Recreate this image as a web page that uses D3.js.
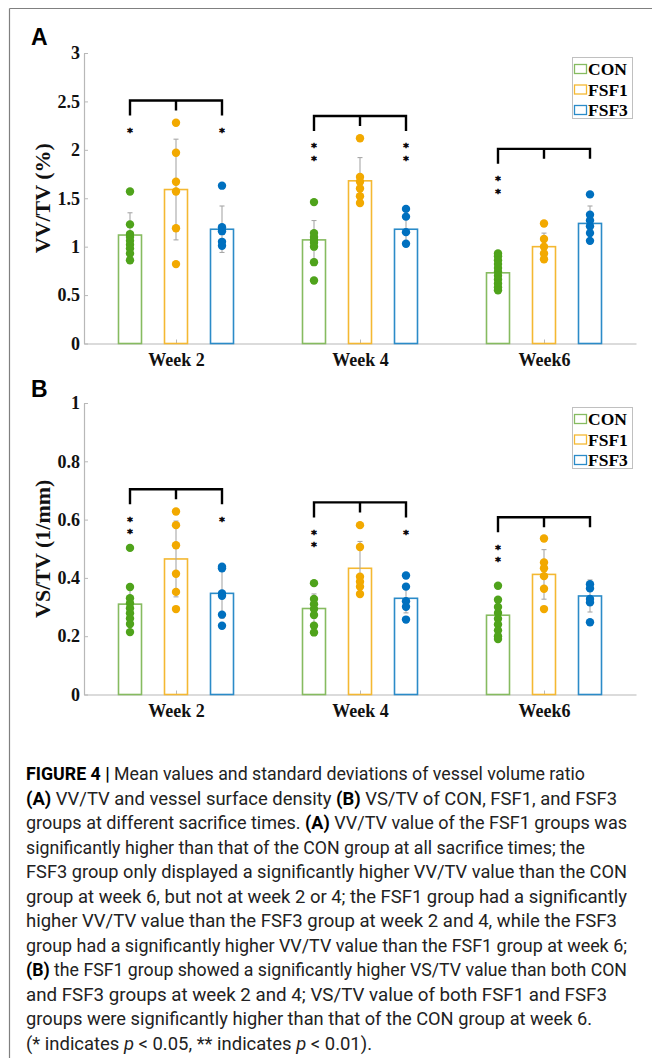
<!DOCTYPE html>
<html>
<head>
<meta charset="utf-8">
<script src="https://cdn.jsdelivr.net/npm/d3@7"></script>
<style>
  body { margin: 0; background: #fff; }
  svg { display: block; }
</style>
</head>
<body>
<svg id="fig" width="652" height="1058"></svg>
<script>
// categories
var weeks = ["Week 2", "Week 4", "Week6"];
var groups = ["CON", "FSF1", "FSF3"];

// panel A : VV/TV (%)  [week][group]
var vvMean = [[1.12, 1.59, 1.18], [1.07, 1.68, 1.18], [0.73, 1.00, 1.24]];
var vvSD = [[0.23, 0.52, 0.24], [0.20, 0.24, 0.15], [0.12, 0.14, 0.18]];
var vvPts = [
  [[1.57, 1.23, 1.13, 1.10, 1.06, 1.02, 0.98, 0.93, 0.86], [2.28, 1.97, 1.67, 1.57, 1.19, 0.82], [1.63, 1.20, 1.16, 1.05, 1.01]],
  [[1.46, 1.14, 1.10, 1.07, 1.04, 1.00, 0.84, 0.65], [2.12, 1.72, 1.67, 1.60, 1.52, 1.45], [1.39, 1.31, 1.15, 1.03]],
  [[0.93, 0.90, 0.86, 0.82, 0.78, 0.74, 0.70, 0.66, 0.62, 0.58, 0.55], [1.24, 1.08, 1.00, 0.93, 0.87], [1.54, 1.33, 1.27, 1.21, 1.14, 1.06]]
];
var vvBracket = [2.51, 2.35, 2.01];
var vvStars = [["*", "", "*"], ["**", "", "**"], ["**", "", ""]];
var vvTicks = [0, 0.5, 1, 1.5, 2, 2.5, 3];
var vvTickLabels = ["0", "0.5", "1", "1.5", "2", "2.5", "3"];

// panel B : VS/TV (1/mm)
var vsMean = [[0.310, 0.465, 0.347], [0.295, 0.433, 0.330], [0.272, 0.412, 0.338]];
var vsSD = [[0.060, 0.130, 0.085], [0.050, 0.092, 0.050], [0.055, 0.085, 0.055]];
var vsPts = [
  [[0.503, 0.369, 0.330, 0.313, 0.296, 0.279, 0.261, 0.242, 0.214], [0.628, 0.581, 0.512, 0.414, 0.352, 0.293], [0.438, 0.433, 0.347, 0.339, 0.274, 0.236]],
  [[0.382, 0.328, 0.310, 0.293, 0.273, 0.236, 0.213], [0.581, 0.506, 0.404, 0.387, 0.370, 0.345], [0.408, 0.370, 0.320, 0.301, 0.257]],
  [[0.373, 0.325, 0.300, 0.280, 0.260, 0.240, 0.220, 0.200, 0.190], [0.535, 0.453, 0.433, 0.406, 0.363, 0.293], [0.378, 0.364, 0.328, 0.316, 0.248]]
];
var vsBracket = [0.704, 0.659, 0.608];
var vsStars = [["**", "", "*"], ["**", "", "*"], ["**", "", ""]];
var vsTicks = [0, 0.2, 0.4, 0.6, 0.8, 1];
var vsTickLabels = ["0", "0.2", "0.4", "0.6", "0.8", "1"];

var caption = [
  "<b>FIGURE 4 |</b> Mean values and standard deviations of vessel volume ratio",
  "<b>(A)</b> VV/TV and vessel surface density <b>(B)</b> VS/TV of CON, FSF1, and FSF3",
  "groups at different sacrifice times. <b>(A)</b> VV/TV value of the FSF1 groups was",
  "significantly higher than that of the CON group at all sacrifice times; the",
  "FSF3 group only displayed a significantly higher VV/TV value than the CON",
  "group at week 6, but not at week 2 or 4; the FSF1 group had a significantly",
  "higher VV/TV value than the FSF3 group at week 2 and 4, while the FSF3",
  "group had a significantly higher VV/TV value than the FSF1 group at week 6;",
  "<b>(B)</b> the FSF1 group showed a significantly higher VS/TV value than both CON",
  "and FSF3 groups at week 2 and 4; VS/TV value of both FSF1 and FSF3",
  "groups were significantly higher than that of the CON group at week 6.",
  "(* indicates <i>p</i> &lt; 0.05, ** indicates <i>p</i> &lt; 0.01)."
];
var captionWidths = [559, 591, 601, 559, 601, 601, 591, 601, 601, 581, 566, 346];

var pointColor = { CON: "#4fa31b", FSF1: "#f2a900", FSF3: "#0070bf" };
var barColor = { CON: "#86bb60", FSF1: "#f4b832", FSF3: "#2b8bc8" };

var svg = d3.select("#fig");
var serif = "'Liberation Serif', 'Times New Roman', serif";

// frame
svg.append("line").attr("x1", 9.5).attr("y1", 8.5).attr("x2", 652).attr("y2", 8.5)
  .attr("stroke", "#808080").attr("stroke-width", 1.2);
svg.append("line").attr("x1", 9.5).attr("y1", 8.5).attr("x2", 9.5).attr("y2", 1058)
  .attr("stroke", "#808080").attr("stroke-width", 1.2);

function drawPanel(opt) {
  var g = svg.append("g");

  var x = d3.scalePoint().domain(weeks).range([84, 636]).padding(0.5);
  var xg = d3.scaleBand().domain(groups).range([-69, 69]).paddingInner(0.5).paddingOuter(0.25);
  var y = d3.scaleLinear().domain([0, opt.max]).range([opt.bottom, opt.top]);

  function cx(w, grp) { return x(w) + xg(grp) + xg.bandwidth() / 2; }

  // axes
  var yAxis = g.append("g")
    .attr("transform", "translate(84,0)")
    .call(d3.axisLeft(y).tickValues(opt.ticks)
      .tickFormat(function(d, i) { return opt.tickLabels[i]; })
      .tickSize(-4).tickSizeOuter(0).tickPadding(4));

  var xAxis = g.append("g")
    .attr("transform", "translate(0," + opt.bottom + ")")
    .call(d3.axisBottom(x).tickSize(-4).tickSizeOuter(0).tickPadding(10));

  [yAxis, xAxis].forEach(function(a) {
    a.select(".domain").attr("stroke", "#b8b8b8").attr("stroke-width", 1.2);
    a.selectAll(".tick line").attr("stroke", "#b8b8b8");
    a.selectAll("text").attr("fill", "#111").style("font-family", serif)
      .style("font-weight", "bold").style("font-size", "18px");
  });

  // y label
  g.append("text")
    .attr("transform", "translate(50," + ((opt.top + opt.bottom) / 2) + ") rotate(-90)")
    .attr("text-anchor", "middle")
    .style("font-family", serif).style("font-weight", "bold").style("font-size", "22px")
    .attr("fill", "#111")
    .text(opt.label);

  // panel letter
  g.append("text").attr("x", 31).attr("y", opt.letterY)
    .style("font-family", "'Liberation Sans', Arial, sans-serif")
    .style("font-weight", "bold").style("font-size", "23px")
    .text(opt.letter);

  var rows = [];
  weeks.forEach(function(w, i) {
    groups.forEach(function(grp, j) {
      rows.push({ week: w, group: grp, mean: opt.mean[i][j], sd: opt.sd[i][j], pts: opt.pts[i][j] });
    });
  });

  // bars
  g.selectAll("rect.bar")
    .data(rows)
    .enter()
      .append("rect")
      .attr("class", "bar")
      .attr("x", d => x(d.week) + xg(d.group))
      .attr("y", d => y(d.mean))
      .attr("width", xg.bandwidth())
      .attr("height", d => y(0) - y(d.mean))
      .attr("fill", "none")
      .attr("stroke", d => barColor[d.group])
      .attr("stroke-width", 1.6);

  // error bars
  var eb = g.selectAll("g.err").data(rows).enter().append("g").attr("class", "err")
    .attr("stroke", "#a8a8a8").attr("stroke-width", 1.1);
  eb.append("line")
    .attr("x1", d => cx(d.week, d.group)).attr("x2", d => cx(d.week, d.group))
    .attr("y1", d => y(d.mean - d.sd)).attr("y2", d => y(d.mean + d.sd));
  eb.append("line")
    .attr("x1", d => cx(d.week, d.group) - 2.5).attr("x2", d => cx(d.week, d.group) + 2.5)
    .attr("y1", d => y(d.mean + d.sd)).attr("y2", d => y(d.mean + d.sd));
  eb.append("line")
    .attr("x1", d => cx(d.week, d.group) - 2.5).attr("x2", d => cx(d.week, d.group) + 2.5)
    .attr("y1", d => y(d.mean - d.sd)).attr("y2", d => y(d.mean - d.sd));

  // points
  var pts = [];
  rows.forEach(function(r) {
    r.pts.forEach(function(v) { pts.push({ week: r.week, group: r.group, v: v }); });
  });
  g.selectAll("circle.pt")
    .data(pts)
    .enter()
      .append("circle")
      .attr("class", "pt")
      .attr("cx", d => cx(d.week, d.group))
      .attr("cy", d => y(d.v))
      .attr("r", 4.2)
      .attr("fill", d => pointColor[d.group]);

  // significance brackets and stars
  weeks.forEach(function(w, i) {
    var top = y(opt.bracket[i]);
    var x0 = cx(w, "CON"), x1 = cx(w, "FSF1"), x2 = cx(w, "FSF3");
    var stars = opt.stars[i];
    var d0 = stars[0] ? 15 : 10, d2 = stars[2] ? 15 : 10;
    g.append("path")
      .attr("d", "M" + x0 + "," + (top + d0) + "V" + top + "H" + x2 + "V" + (top + d2)
        + "M" + x1 + "," + top + "V" + (top + 10))
      .attr("fill", "none").attr("stroke", "#000").attr("stroke-width", 2.4);
    [x0, x1, x2].forEach(function(sx, j) {
      var s = stars[j];
      for (var k = 0; k < s.length; k++) {
        g.append("text")
          .attr("x", sx).attr("y", top + 35.5 + 12.5 * k)
          .attr("text-anchor", "middle").attr("fill", "#000")
          .attr("stroke", "#000").attr("stroke-width", 0.5)
          .style("font-family", "'DejaVu Sans', sans-serif").style("font-weight", "bold")
          .style("font-size", "10.5px")
          .text("*");
      }
    });
  });

  // legend
  var lg = g.append("g").attr("transform", "translate(572.5," + (opt.top + 4.5) + ")");
  lg.append("rect").attr("width", 60).attr("height", 61)
    .attr("fill", "#fff").attr("stroke", "#c0c0c0").attr("stroke-width", 1);
  groups.forEach(function(grp, j) {
    var cy = 11.5 + j * 20.5;
    lg.append("rect").attr("x", 2).attr("y", cy - 4.5).attr("width", 12).attr("height", 9)
      .attr("fill", "none").attr("stroke", barColor[grp]).attr("stroke-width", 1.3);
    lg.append("text").attr("x", 15.5).attr("y", cy + 6)
      .style("font-family", serif).style("font-weight", "bold").style("font-size", "17.5px")
      .text(grp);
  });
}

drawPanel({ mean: vvMean, sd: vvSD, pts: vvPts, bracket: vvBracket, stars: vvStars,
  ticks: vvTicks, tickLabels: vvTickLabels, max: 3, top: 53, bottom: 343.5,
  label: "VV/TV (%)", letter: "A", letterY: 45 });

drawPanel({ mean: vsMean, sd: vsSD, pts: vsPts, bracket: vsBracket, stars: vsStars,
  ticks: vsTicks, tickLabels: vsTickLabels, max: 1, top: 403, bottom: 694.5,
  label: "VS/TV (1/mm)", letter: "B", letterY: 397 });

// caption
var cap = svg.append("g")
  .style("font-family", "'Liberation Sans Narrow', Roboto, sans-serif")
  .style("font-size", "18px").attr("fill", "#222");

caption.forEach(function(line, i) {
  var t = cap.append("text").attr("x", 26).attr("y", 780 + i * 24.5)
    .attr("textLength", captionWidths[i]).attr("lengthAdjust", "spacingAndGlyphs");
  var parts = line.split(/(<b>.*?<\/b>|<i>.*?<\/i>)/);
  parts.forEach(function(p) {
    if (!p) return;
    var txt = p.replace(/<\/?[bi]>/g, "").replace(/&lt;/g, "<");
    var ts = t.append("tspan").text(txt);
    if (p.indexOf("<b>") === 0) ts.style("font-weight", "bold").attr("fill", "#000");
    if (p.indexOf("<i>") === 0) ts.style("font-style", "italic");
  });
});
</script>
</body>
</html>
